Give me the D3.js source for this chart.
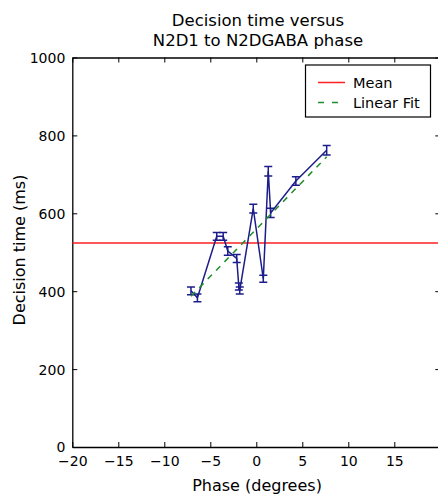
<!DOCTYPE html>
<html><head><meta charset="utf-8">
<script src="https://cdn.jsdelivr.net/npm/d3@7"></script>
<style>body{margin:0;background:#fff;} text{font-family:"DejaVu Sans",sans-serif;fill:#000;}</style>
</head><body><svg id="c" width="438" height="494"></svg>
<script>
const phase = [-7.1, -6.4, -4.3, -3.6, -3.1, -2.13, -1.9, -1.8, -0.33, 0.76, 1.3, 1.56, 4.3, 7.65];
const decision = [401, 383, 541, 541, 503, 484, 412, 402, 612, 432, 708, 601, 683, 762];
const errors = [10, 10, 10, 10, 11, 10, 9, 9, 11, 9, 12, 12, 11, 12];
const meanValue = [524];
const fitX = [-7.1, 7.65];
const fitY = [387, 745];
const xTicks = [-20, -15, -10, -5, 0, 5, 10, 15];
const yTicks = [0, 200, 400, 600, 800, 1000];
const legendLabels = ["Mean", "Linear Fit"];

const svg = d3.select("#c");
const L = 72.3, R = 440.3, T = 57.5, B = 447;
const x = d3.scaleLinear().domain([-20, 20]).range([L, R]);
const y = d3.scaleLinear().domain([0, 1000]).range([B, T]);
const fmt = d => (d < 0 ? "\u2212" + Math.abs(d) : String(d));

const g = svg.append("g");
svg.append("clipPath").attr("id", "pc").append("rect")
  .attr("x", L).attr("y", T).attr("width", R - L).attr("height", B - T);

const xb = g.append("g").attr("transform", `translate(0,${B})`)
  .call(d3.axisBottom(x).tickValues(xTicks).tickFormat(fmt).tickSizeInner(-5).tickSizeOuter(0).tickPadding(8));
const xt = g.append("g").attr("transform", `translate(0,${T})`)
  .call(d3.axisTop(x).tickValues(xTicks).tickFormat("").tickSizeInner(-5).tickSizeOuter(0));
const yl = g.append("g").attr("transform", `translate(${L},0)`)
  .call(d3.axisLeft(y).tickValues(yTicks).tickFormat(d => d).tickSizeInner(-5).tickSizeOuter(0).tickPadding(7));
const yr = g.append("g").attr("transform", `translate(${R},0)`)
  .call(d3.axisRight(y).tickValues(yTicks).tickFormat("").tickSizeInner(-5).tickSizeOuter(0));
[xb, xt, yl, yr].forEach(a => {
  a.selectAll("path").attr("stroke", "#000").attr("stroke-width", 1.3);
  a.selectAll("line").attr("stroke", "#000").attr("stroke-width", 1);
  a.selectAll("text").style("font-size", "14px").style("font-family", "DejaVu Sans").attr("fill", "#000");
});
xb.selectAll("text").attr("dy", "0.75em");
yl.selectAll("text").attr("dy", "0.35em");

const plot = svg.append("g").attr("clip-path", "url(#pc)");
plot.append("line").attr("x1", L).attr("x2", R)
  .attr("y1", y(meanValue[0])).attr("y2", y(meanValue[0]))
  .attr("stroke", "#ff2020").attr("stroke-width", 1.5);
const col = "#1c1c8a";
const pts = phase.map((p, i) => [p, decision[i], errors[i]]);
plot.append("path").attr("d", d3.line().x(d => x(d[0])).y(d => y(d[1]))(pts))
  .attr("fill", "none").attr("stroke", col).attr("stroke-width", 1.5);
const eb = plot.selectAll(".eb").data(pts).enter().append("g");
eb.append("line").attr("x1", d => x(d[0])).attr("x2", d => x(d[0]))
  .attr("y1", d => y(d[1] - d[2])).attr("y2", d => y(d[1] + d[2]))
  .attr("stroke", col).attr("stroke-width", 1.5);
[-1, 1].forEach(s => {
  eb.append("line").attr("x1", d => x(d[0]) - 4).attr("x2", d => x(d[0]) + 4)
    .attr("y1", d => y(d[1] + s * d[2])).attr("y2", d => y(d[1] + s * d[2]))
    .attr("stroke", col).attr("stroke-width", 1.5);
});
plot.append("line").attr("x1", x(fitX[0])).attr("x2", x(fitX[1]))
  .attr("y1", y(fitY[0])).attr("y2", y(fitY[1]))
  .attr("stroke", "#1e8c2a").attr("stroke-width", 1.5).attr("stroke-dasharray", "6,6");

svg.append("text").attr("x", 258).attr("y", 26).attr("text-anchor", "middle").style("font-size", "16.5px").text("Decision time versus");
svg.append("text").attr("x", 258).attr("y", 45.5).attr("text-anchor", "middle").style("font-size", "16.5px").text("N2D1 to N2DGABA phase");
svg.append("text").attr("x", 257).attr("y", 491).attr("text-anchor", "middle").style("font-size", "16px").text("Phase (degrees)");
svg.append("text").attr("transform", "translate(25,250) rotate(-90)").attr("text-anchor", "middle").style("font-size", "16px").text("Decision time (ms)");

const lg = svg.append("g");
lg.append("rect").attr("x", 305.5).attr("y", 65).attr("width", 125).attr("height", 52)
  .attr("fill", "#fff").attr("stroke", "#000").attr("stroke-width", 1.2);
lg.append("line").attr("x1", 318).attr("x2", 345).attr("y1", 82.5).attr("y2", 82.5).attr("stroke", "#ff2020").attr("stroke-width", 1.5);
lg.append("line").attr("x1", 318).attr("x2", 345).attr("y1", 102.5).attr("y2", 102.5).attr("stroke", "#1e8c2a").attr("stroke-width", 1.5).attr("stroke-dasharray", "6,8");
lg.append("text").attr("x", 353).attr("y", 82.5).attr("dy", "0.35em").style("font-size", "14.5px").text(legendLabels[0]);
lg.append("text").attr("x", 353).attr("y", 102.5).attr("dy", "0.35em").style("font-size", "14.5px").text(legendLabels[1]);
</script></body></html>
